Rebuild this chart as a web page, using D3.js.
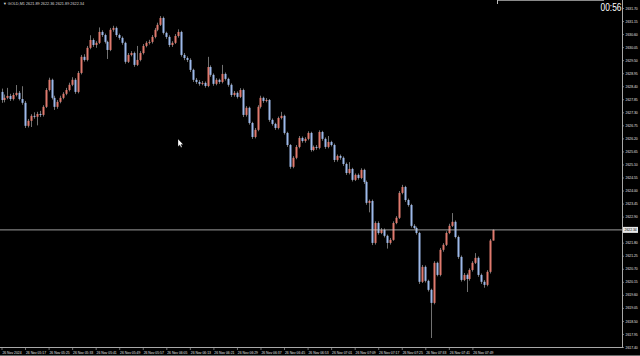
<!DOCTYPE html>
<html>
<head>
<meta charset="utf-8">
<script src="https://cdn.jsdelivr.net/npm/d3@7"></script>
<style>
html,body{margin:0;padding:0;background:#000;overflow:hidden;}
svg{display:block;}
text{font-family:"Liberation Sans",Arial,sans-serif;}
</style>
</head>
<body>
<div id="chart"></div>
<script>
// GOLD M1 bars, 05:09 -> 07:56
const firstOpen = 2628.16;
const closes = [
 2627.82,2627.91,2627.99,2627.86,2628.03,2628.12,2627.86,2627.70,2626.73,2626.94,
 2627.15,2627.11,2627.23,2627.19,2627.53,2628.24,2628.67,2627.91,2627.53,2627.74,
 2627.91,2628.08,2628.24,2628.46,2628.67,2628.16,2628.96,2629.64,2629.51,2630.02,
 2630.35,2630.14,2630.23,2630.69,2630.56,2630.27,2629.93,2630.78,2630.86,2630.56,
 2630.44,2630.23,2629.43,2629.72,2629.80,2629.30,2629.51,2629.80,2630.10,2630.23,
 2630.27,2630.48,2630.78,2630.99,2631.28,2630.65,2630.48,2630.14,2630.23,2630.52,
 2630.69,2629.72,2629.59,2629.51,2629.09,2628.67,2628.58,2628.50,2628.54,2628.41,
 2629.21,2628.88,2628.50,2628.67,2628.58,2628.92,2628.71,2628.46,2628.03,2628.12,
 2627.95,2628.24,2627.19,2627.49,2626.85,2626.26,2626.56,2627.53,2627.91,2627.78,
 2627.82,2626.98,2626.81,2626.64,2627.06,2627.15,2626.43,2625.92,2625.00,2625.38,
 2625.84,2626.22,2626.09,2626.18,2626.43,2625.71,2625.84,2625.80,2626.47,2626.18,
 2625.84,2626.05,2625.92,2625.29,2625.46,2625.38,2625.12,2624.74,2624.91,2624.45,
 2624.66,2624.53,2624.87,2624.36,2623.48,2623.56,2621.79,2622.63,2622.21,2622.34,
 2622.09,2621.79,2621.92,2622.63,2622.85,2623.90,2624.15,2623.60,2623.39,2622.51,
 2622.42,2622.21,2620.15,2620.78,2620.19,2619.81,2619.26,2620.95,2620.44,2621.50,
 2621.71,2622.21,2622.51,2622.68,2622.04,2621.20,2620.23,2620.44,2620.27,2620.65,
 2620.95,2621.16,2620.44,2620.15,2620.02,2620.57,2621.89,2622.34
];
const highs = [
 2628.30,2628.05,2628.33,2628.08,2628.12,2628.45,2628.20,2628.40,2627.78,2627.02,
 2627.22,2627.30,2627.32,2627.36,2627.60,2628.32,2628.76,2628.72,2628.00,2627.82,
 2628.00,2628.15,2628.33,2628.55,2628.78,2628.74,2629.04,2629.72,2629.75,2630.10,
 2630.55,2630.42,2630.30,2630.88,2630.76,2630.62,2630.32,2630.86,2630.95,2630.92,
 2630.62,2630.50,2630.28,2629.80,2629.88,2629.86,2630.10,2629.88,2630.18,2630.30,
 2630.36,2630.56,2630.86,2631.08,2631.36,2631.34,2630.70,2630.55,2630.30,2630.60,
 2630.80,2630.74,2629.80,2629.66,2629.58,2629.14,2628.75,2628.66,2628.62,2628.60,
 2629.64,2629.28,2628.94,2628.74,2628.72,2629.30,2628.98,2628.76,2628.52,2628.20,
 2628.18,2628.32,2628.30,2627.56,2627.54,2626.90,2626.64,2627.60,2628.00,2627.96,
 2627.90,2627.86,2627.04,2626.86,2627.12,2627.32,2627.20,2626.48,2625.96,2625.45,
 2625.92,2626.30,2626.28,2626.25,2626.50,2626.48,2625.90,2625.92,2626.54,2626.52,
 2626.24,2626.30,2626.10,2625.98,2625.52,2625.52,2625.44,2625.18,2625.20,2624.96,
 2624.72,2624.72,2624.94,2624.92,2624.42,2623.62,2623.62,2622.70,2622.70,2622.42,
 2622.40,2622.14,2622.00,2622.70,2622.92,2623.98,2624.24,2624.20,2623.66,2623.44,
 2622.58,2622.48,2622.26,2620.86,2620.84,2620.24,2619.86,2621.02,2621.00,2621.58,
 2621.78,2622.28,2622.60,2623.05,2622.74,2622.10,2621.26,2620.52,2620.50,2620.72,
 2621.02,2621.36,2621.22,2620.50,2620.22,2620.64,2621.96,2622.36
];
const lows = [
 2627.70,2627.72,2627.85,2627.78,2627.80,2627.97,2627.80,2627.62,2626.64,2626.66,
 2626.68,2627.03,2626.75,2627.10,2627.12,2627.48,2628.18,2627.84,2627.40,2627.45,
 2627.68,2627.85,2628.02,2628.18,2628.40,2628.08,2628.10,2628.90,2629.44,2629.45,
 2629.96,2630.06,2630.02,2630.18,2630.48,2630.20,2629.55,2629.88,2630.70,2630.48,
 2630.36,2630.15,2629.35,2629.38,2629.66,2629.22,2629.25,2629.45,2629.74,2630.04,
 2630.16,2630.20,2630.42,2630.72,2630.94,2630.58,2630.40,2630.05,2630.06,2630.18,
 2630.45,2629.65,2629.50,2629.42,2629.00,2628.58,2628.50,2628.42,2628.44,2628.34,
 2628.36,2628.80,2628.42,2628.44,2628.50,2628.52,2628.64,2628.38,2627.95,2627.96,
 2627.88,2627.90,2627.10,2627.12,2626.78,2626.18,2626.20,2626.50,2627.46,2627.70,
 2627.72,2626.90,2626.74,2626.56,2626.58,2627.00,2626.36,2625.84,2624.92,2624.94,
 2625.32,2625.78,2626.02,2626.02,2626.12,2625.64,2625.66,2625.72,2625.74,2626.10,
 2625.76,2625.78,2625.86,2625.20,2625.22,2625.30,2625.04,2624.66,2624.68,2624.38,
 2624.40,2624.46,2624.48,2624.28,2623.40,2623.08,2621.70,2621.72,2622.14,2622.16,
 2622.02,2621.55,2621.72,2621.88,2622.58,2622.80,2623.84,2623.52,2623.32,2622.44,
 2622.36,2622.14,2620.06,2620.10,2620.12,2619.74,2617.78,2619.20,2620.38,2620.38,
 2621.42,2621.66,2622.16,2622.46,2621.98,2621.12,2620.16,2620.18,2619.72,2620.20,
 2620.58,2620.90,2620.36,2620.06,2619.90,2619.96,2620.50,2621.89
];
const timeLabels = ["26 Nov 2024","26 Nov 05:17","26 Nov 05:25","26 Nov 05:33","26 Nov 05:41",
 "26 Nov 05:49","26 Nov 05:57","26 Nov 06:05","26 Nov 06:13","26 Nov 06:21","26 Nov 06:29",
 "26 Nov 06:37","26 Nov 06:45","26 Nov 06:53","26 Nov 07:01","26 Nov 07:09","26 Nov 07:17",
 "26 Nov 07:25","26 Nov 07:33","26 Nov 07:41","26 Nov 07:49"];
const priceTicks = [2631.70,2631.15,2630.60,2630.05,2629.50,2628.95,2628.40,2627.85,2627.30,
 2626.75,2626.20,2625.65,2625.10,2624.55,2624.00,2623.45,2622.90,2622.35,2621.80,2621.25,
 2620.70,2620.15,2619.60,2619.05,2618.50,2617.95,2617.40];
const lastPrice = 2622.34;
const headerText = "\u25BC GOLD,M1  2621.89 2622.36 2621.89 2622.34";
const timerText = "00:56";

function draw(){
  var width = 640, height = 356;
  var plotRight = 622, plotBottom = 348;

  var svg = d3.select("#chart").append("svg")
    .attr("width", width)
    .attr("height", height);

  svg.append("rect").attr("width", width).attr("height", height).attr("fill", "#000");

  var x = d3.scaleLinear().domain([0, closes.length - 1]).range([1.5, 493]);
  var y = d3.scaleLinear().domain([2617.40, 2631.70]).range([347, 8]);

  var bars = closes.map(function(c, i){
    return {i: i, o: i ? closes[i-1] : firstOpen, c: c, h: highs[i], l: lows[i]};
  });

  // wicks
  svg.append("g").selectAll("line")
    .data(bars).enter().append("line")
    .attr("x1", d => Math.round(x(d.i)) + 0.5)
    .attr("x2", d => Math.round(x(d.i)) + 0.5)
    .attr("y1", d => y(d.h))
    .attr("y2", d => y(d.l))
    .attr("stroke", "#8e8e8e")
    .attr("stroke-width", 0.8);

  // bodies
  svg.append("g").selectAll("rect")
    .data(bars).enter().append("rect")
    .attr("x", d => Math.round(x(d.i)) - 0.5)
    .attr("width", 2)
    .attr("y", d => y(Math.max(d.o, d.c)))
    .attr("height", d => Math.max(1, Math.abs(y(d.o) - y(d.c))))
    .attr("fill", d => d.c >= d.o ? "#e07a6e" : "#9db9ea");

  // current price line
  var yl = y(lastPrice);
  svg.append("line")
    .attr("x1", 0).attr("x2", plotRight)
    .attr("y1", yl).attr("y2", yl)
    .attr("stroke", "#c4c4c4").attr("stroke-width", 0.8);

  // price axis
  var yaxis = d3.axisRight(y)
    .tickValues(priceTicks.filter(p => Math.abs(y(p) - yl) > 5))
    .tickFormat(d3.format(".2f"))
    .tickSize(2).tickPadding(1.5);
  var ya = svg.append("g").attr("transform", `translate(${plotRight},0)`).call(yaxis);
  ya.select(".domain").remove();
  ya.selectAll("line").attr("stroke", "#bbb").attr("stroke-width", 0.6);
  ya.selectAll("text").attr("fill", "#e4e4e4").attr("font-size", "3.4px")
    .attr("font-family", "Liberation Sans, Arial, sans-serif");

  // time axis
  var idx = timeLabels.map((t, k) => k * 8);
  var xaxis = d3.axisBottom(x)
    .tickValues(idx)
    .tickFormat((d, k) => timeLabels[k])
    .tickSize(2).tickPadding(1.2);
  var xa = svg.append("g").attr("transform", `translate(0,${plotBottom})`).call(xaxis);
  xa.select(".domain").remove();
  xa.selectAll("line").attr("stroke", "#bbb").attr("stroke-width", 0.6);
  xa.selectAll("text").attr("fill", "#e4e4e4").attr("font-size", "3.4px")
    .attr("text-anchor", "start").attr("dx", "0.4")
    .attr("font-family", "Liberation Sans, Arial, sans-serif");

  // frame
  svg.append("line").attr("x1", plotRight + 0.5).attr("x2", plotRight + 0.5)
    .attr("y1", 0).attr("y2", plotBottom).attr("stroke", "#a8a8a8").attr("stroke-width", 1);
  svg.append("line").attr("x1", 0).attr("x2", plotRight)
    .attr("y1", plotBottom - 0.5).attr("y2", plotBottom - 0.5).attr("stroke", "#a8a8a8").attr("stroke-width", 1);
  svg.append("line").attr("x1", 0).attr("x2", width)
    .attr("y1", 355.5).attr("y2", 355.5).attr("stroke", "#6a6a6a").attr("stroke-width", 1);
  svg.append("line").attr("x1", 497).attr("x2", 604)
    .attr("y1", 0.5).attr("y2", 0.5).attr("stroke", "#8a8a8a").attr("stroke-width", 1);
  svg.append("line").attr("x1", 497.5).attr("x2", 497.5)
    .attr("y1", 0).attr("y2", 4).attr("stroke", "#bbb").attr("stroke-width", 1);

  // last price tag
  svg.append("rect").attr("x", plotRight + 1).attr("y", yl - 3)
    .attr("width", 15).attr("height", 6).attr("fill", "#e8e8e8");
  svg.append("text").attr("x", plotRight + 2.5).attr("y", yl + 1.3)
    .attr("font-size", "3.4px").attr("fill", "#000").text(lastPrice.toFixed(2));

  // header + bar timer
  svg.append("text").attr("x", 3).attr("y", 5.3)
    .attr("font-size", "3.8px").attr("fill", "#d8d8d8").text(headerText);
  svg.append("text").attr("x", 600.5).attr("y", 10.8)
    .attr("font-size", "10px").attr("fill", "#fff")
    .attr("textLength", 21).attr("lengthAdjust", "spacingAndGlyphs")
    .text(timerText);

  // mouse pointer from the screenshot
  svg.append("path")
    .attr("d", "M178,139 L178,146.5 L179.8,144.9 L181,147.6 L182.1,147.1 L180.9,144.5 L183.2,144.4 Z")
    .attr("fill", "#fff").attr("stroke", "#000").attr("stroke-width", 0.3);
}
draw();
</script>
</body>
</html>
